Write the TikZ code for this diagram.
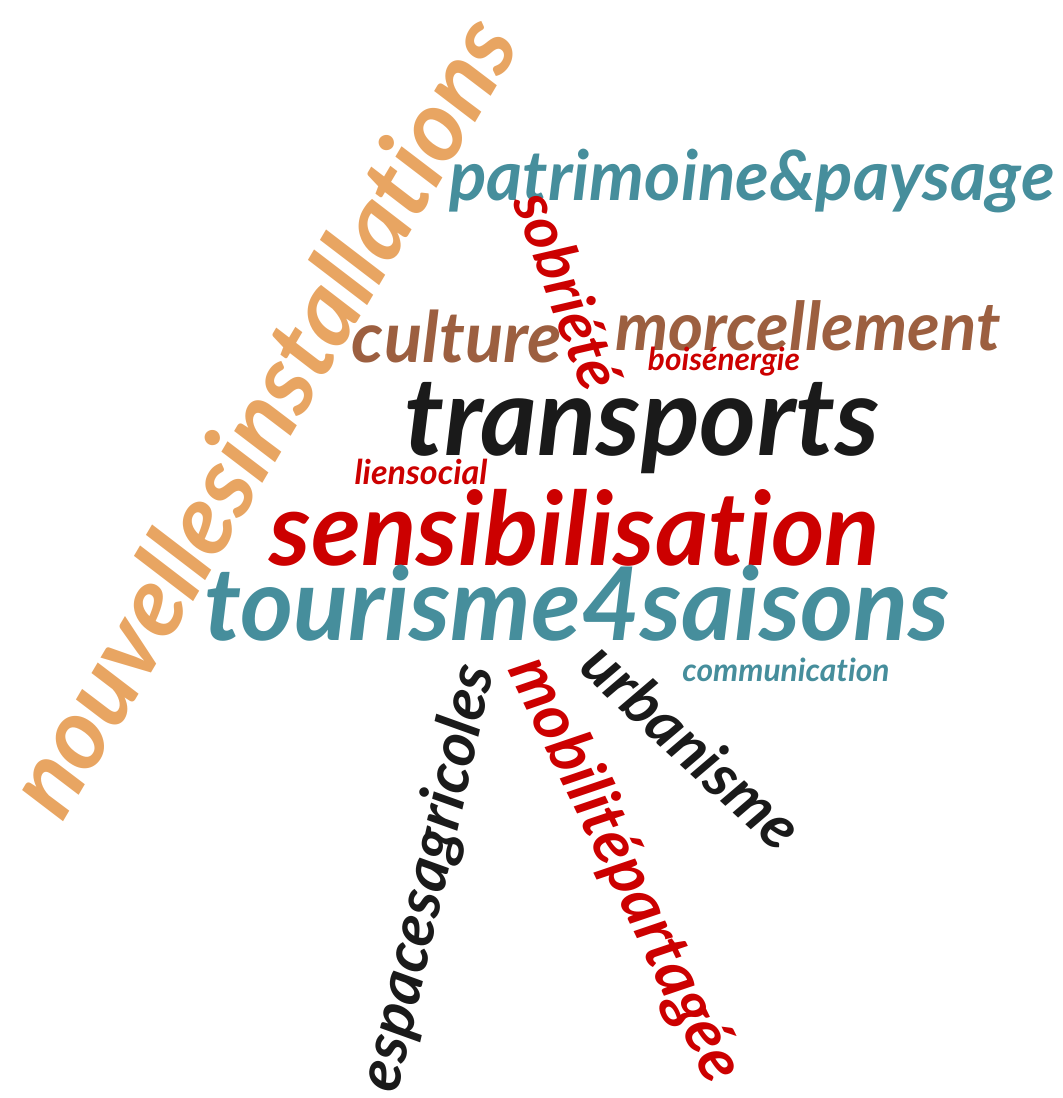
\documentclass[tikz,border=0pt]{standalone}
\usepackage{fontspec}
\setmainfont{Lato}[Ligatures={NoCommon,NoRare}]
\usepackage{graphicx}
\usepackage{tikz}
\usetikzlibrary{positioning}
\usepackage{xcolor}
\definecolor{orangew}{HTML}{E8A562}
\definecolor{tealw}{HTML}{468E9C}
\definecolor{brownw}{HTML}{9C5F40}
\definecolor{redw}{HTML}{CC0000}
\definecolor{blackw}{HTML}{1A1A1A}
\newcommand{\wordbox}[2]{\resizebox{#1pt}{!}{#2}}

\begin{document}
\begin{tikzpicture}[x=1pt,y=-1pt,
  word/.style={inner sep=0pt,outer sep=0pt,anchor=base,font=\bfseries\itshape}]
  \useasboundingbox (0,0) rectangle (1063,1098);
  % baseline midpoints of the words
  \coordinate (N) at (292,434);
  \coordinate (P) at (752,200);
  \coordinate (S) at (548,298);
  \coordinate (M) at (808,350);
  \coordinate (C) at (457,362);
  \coordinate (B) at (724,370);
  \coordinate (T) at (642,455);
  \coordinate (L) at (421,484);
  \coordinate (Z) at (575,565);
  \coordinate (Q) at (577,640);
  \coordinate (K) at (786,681);
  \coordinate (E) at (446,882);
  \coordinate (O) at (608,878);
  \coordinate (U) at (677,762);
  \node[word,text=orangew,rotate=59.5] (nouvelles) at (N) {\wordbox{905}{nouvellesinstallations}};
  \node[word,text=tealw] (patrimoine) at (P) {\wordbox{605}{patrimoine\&paysage}};
  \node[word,text=redw,rotate=-70] (sobriete) at (S) {\wordbox{205}{sobriété}};
  \node[word,text=brownw] (morcellement) at (M) {\wordbox{385}{morcellement}};
  \node[word,text=brownw] (culture) at (C) {\wordbox{210}{culture}};
  \node[word,text=redw] (boisenergie) at (B) {\wordbox{152}{boisénergie}};
  \node[word,text=blackw] (transports) at (T) {\wordbox{475}{transports}};
  \node[word,text=redw] (liensocial) at (L) {\wordbox{133}{liensocial}};
  \node[word,text=redw] (sensibilisation) at (Z) {\wordbox{610}{sensibilisation}};
  \node[word,text=tealw] (tourisme) at (Q) {\wordbox{745}{tourisme4saisons}};
  \node[word,text=tealw] (communication) at (K) {\wordbox{207}{communication}};
  \node[word,text=blackw,rotate=77.2] (espaces) at (E) {\wordbox{435}{espacesagricoles}};
  \node[word,text=redw,rotate=-64.3] (mobilite) at (O) {\wordbox{462}{mobilitépartagée}};
  \node[word,text=blackw,rotate=-42.7] (urbanisme) at (U) {\wordbox{272}{urbanisme}};
\end{tikzpicture}
\end{document}
